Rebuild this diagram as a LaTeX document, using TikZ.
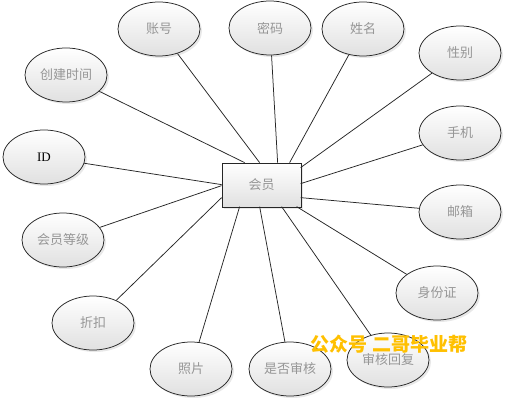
\documentclass[tikz,border=0pt]{standalone}
\usepackage{fontspec}
\setmainfont{Liberation Serif}
\newfontfamily\cjk{Noto Sans CJK SC}
\usetikzlibrary{shapes.geometric,shadows,calc}
\definecolor{wmorange}{RGB}{255,192,0}
\definecolor{txtgray}{RGB}{150,150,150}
\begin{document}
\begin{tikzpicture}[x=1pt,y=-1pt,
  attr/.style={ellipse, draw=black!85, line width=0.75pt, minimum width=82pt, minimum height=54pt,
    inner sep=0pt, top color=white, bottom color=black!12,
    drop shadow={opacity=0.18, shadow xshift=2pt, shadow yshift=-2pt},
    font=\cjk\fontsize{13}{15}\selectfont, text=txtgray},
  hubbox/.style={rectangle, draw=black!85, line width=0.75pt, minimum width=79pt, minimum height=44pt,
    inner sep=0pt, top color=white, bottom color=black!12,
    drop shadow={opacity=0.18, shadow xshift=2pt, shadow yshift=-2pt},
    font=\cjk\fontsize{13}{15}\selectfont, text=txtgray},
  link/.style={draw=black!85, line width=0.75pt}]
\fill[white] (0,0) rectangle (506,401);
\useasboundingbox (0,0) rectangle (506,401);

\node[hubbox] (hub) at (261.5,185) {会员};

\node[attr] (zh) at (159,29) {账号};
\node[attr] (mm) at (270,28) {密码};
\node[attr] (xm) at (363,29) {姓名};
\node[attr] (xb) at (460,53) {性别};
\node[attr] (cj) at (66,75) {创建时间};
\node[attr] (sj) at (460,133) {手机};
\node[attr, font=\fontsize{13}{14}\selectfont, text=black] (id) at (44,157) {ID};
\node[attr] (yx) at (460,212) {邮箱};
\node[attr] (dj) at (63,240) {会员等级};
\node[attr] (sfz) at (437,293) {身份证};
\node[attr] (zk) at (93,323) {折扣};
\node[attr] (zp) at (191,369) {照片};
\node[attr] (sf) at (290,369) {是否审核};
\node[attr] (hf) at (388,360) {审核回复};

\coordinate (pcj) at ($(hub.north west)+(23,0)$);
\coordinate (pzh) at ($(hub.north west)+(38,0)$);
\coordinate (pmm) at ($(hub.north west)+(56,0)$);
\coordinate (pxm) at ($(hub.north west)+(68,0)$);
\coordinate (pxb) at ($(hub.north west)+(79,5)$);
\coordinate (psj) at ($(hub.north west)+(79,21)$);
\coordinate (pyx) at ($(hub.north west)+(79,35)$);
\coordinate (psfz) at ($(hub.north west)+(75,44)$);
\coordinate (phf) at ($(hub.north west)+(60,44)$);
\coordinate (psf) at ($(hub.north west)+(38,44)$);
\coordinate (pzp) at ($(hub.north west)+(18,44)$);
\coordinate (pzk) at ($(hub.north west)+(0,35)$);
\coordinate (pdj) at ($(hub.north west)+(0,23)$);
\coordinate (pid) at ($(hub.north west)+(0,22)$);

\draw[link] (pcj) -- (cj);
\draw[link] (pzh) -- (zh);
\draw[link] (pmm) -- (mm);
\draw[link] (pxm) -- (xm);
\draw[link] (pxb) -- (xb);
\draw[link] (psj) -- (sj);
\draw[link] (pyx) -- (yx);
\draw[link] (psfz) -- (sfz);
\draw[link] (phf) -- (hf);
\draw[link] (psf) -- (sf);
\draw[link] (pzp) -- (zp);
\draw[link] (pzk) -- (zk);
\draw[link] (pdj) -- (dj);
\draw[link] (pid) -- (id);

\node[font=\cjk\bfseries\fontsize{19}{21}\selectfont, text=wmorange, inner sep=0pt] (wm) at (389,344) {公众号\ 二哥毕业帮};
\end{tikzpicture}
\end{document}
